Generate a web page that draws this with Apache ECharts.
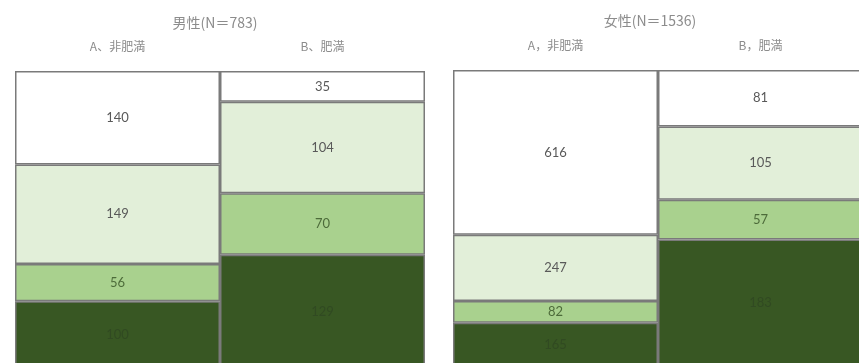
<!DOCTYPE html>
<html>
<head>
<meta charset="utf-8">
<script src="https://cdn.jsdelivr.net/npm/echarts@6/dist/echarts.min.js"></script>
<style>
  html, body { margin: 0; padding: 0; background: #fff; }
  #main { width: 859px; height: 363px; }
</style>
</head>
<body>
<div id="main"></div>
<script>
// 标题和列名
const panelTitles = ['男性(N＝783)', '女性(N＝1536)'];
const columnNames = ['A、非肥満', 'B、肥満', 'A，非肥満', 'B，肥満'];

// 每列的分段（从上到下）
const level1 = [140, 35, 616, 81];
const level2 = [149, 104, 247, 105];
const level3 = [56, 70, 82, 57];
const level4 = [100, 129, 165, 183];

const levelColors = ['#ffffff', '#e2efd9', '#a9d18e', '#385723'];
const labelColors = ['#595959', '#595959', '#4d6b3a', '#314a22'];

let myChart = echarts.init(document.getElementById('main'));

const gridLeft = [15, 220, 453, 658];
const gridTop = [71, 71, 70, 70];

let grids = [], xAxes = [], yAxes = [], series = [];
const levels = [level1, level2, level3, level4];

columnNames.forEach(function (name, i) {
  grids.push({
    left: gridLeft[i], top: gridTop[i], width: 205, height: 297,
    outerBoundsMode: 'none'
  });
  xAxes.push({
    gridIndex: i,
    type: 'category',
    position: 'top',
    data: [name],
    axisLine: { show: false },
    axisTick: { show: false },
    axisLabel: {
      color: '#8c8c8c',
      fontSize: 12,
      margin: 19,
      fontFamily: 'Noto Sans CJK JP'
    }
  });
  const total = level1[i] + level2[i] + level3[i] + level4[i];
  yAxes.push({
    gridIndex: i,
    type: 'value',
    min: 0,
    max: total,
    show: false
  });
  // 从底部开始堆叠
  for (let k = 3; k >= 0; k--) {
    series.push({
      type: 'bar',
      xAxisIndex: i,
      yAxisIndex: i,
      stack: 'col' + i,
      barWidth: '100%',
      silent: true,
      itemStyle: {
        color: levelColors[k],
        borderColor: '#7a7a7a',
        borderWidth: 1.5
      },
      label: {
        show: true,
        position: 'inside',
        color: labelColors[k],
        fontSize: 13,
        fontFamily: 'Lato'
      },
      data: [levels[k][i]]
    });
  }
});

myChart.setOption({
  animation: false,
  backgroundColor: '#fff',
  grid: grids,
  xAxis: xAxes,
  yAxis: yAxes,
  graphic: [
    {
      type: 'text', x: 215, y: 23,
      style: {
        text: panelTitles[0], align: 'center', verticalAlign: 'middle',
        fill: '#8c8c8c', font: '14px "Noto Sans CJK JP"'
      }
    },
    {
      type: 'text', x: 650, y: 21,
      style: {
        text: panelTitles[1], align: 'center', verticalAlign: 'middle',
        fill: '#8c8c8c', font: '14px "Noto Sans CJK JP"'
      }
    }
  ],
  series: series
});
</script>
</body>
</html>
